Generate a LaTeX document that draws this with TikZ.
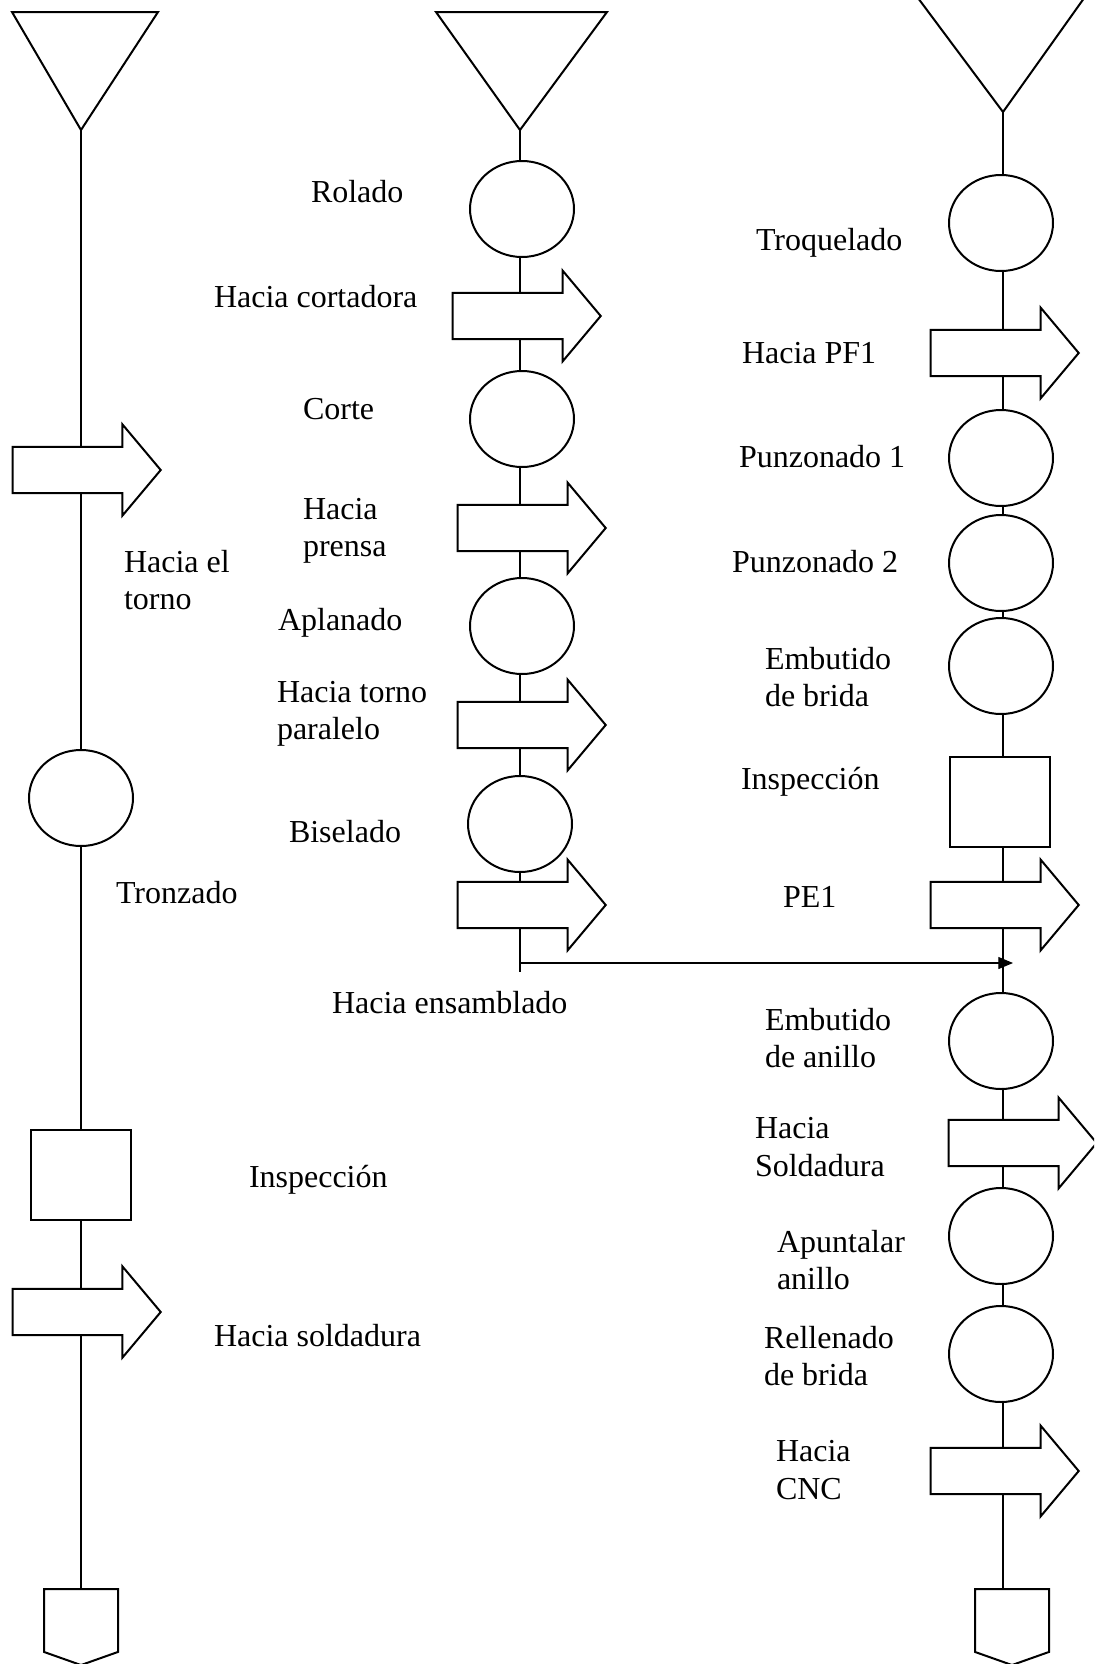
\documentclass[tikz,border=0pt]{standalone}
\usepackage{fontspec}
\setmainfont{Liberation Serif}
\usepackage{tikz}
\usetikzlibrary{shapes.geometric,shapes.arrows,shapes.symbols,arrows.meta,backgrounds}

\begin{document}
\begin{tikzpicture}[x=0.375pt, y=-0.375pt, line width=0.75pt,
  op/.style={ellipse, draw, fill=white, minimum width=39pt, minimum height=36pt, inner sep=0pt},
  insp/.style={rectangle, draw, fill=white, minimum width=37.5pt, minimum height=33.5pt, inner sep=0pt},
  move/.style={single arrow, draw, fill=white, minimum height=55.5pt, minimum width=33.4pt,
    single arrow head extend=8.4pt, single arrow tip angle=100, inner sep=8.3pt},
  store/.style={signal, signal to=south, draw, fill=white, minimum width=27.75pt,
    minimum height=23.6pt, signal pointer angle=141, inner sep=0pt, anchor=north},
  lbl/.style={anchor=west, align=left, inner sep=0pt, font=\fontsize{12}{14}\selectfont}]

\clip (0,0) rectangle (1094,1664);

% Left column
\coordinate (topL) at (81,130);
\draw (12,12) -- (158,12) -- (topL) -- cycle;
\node[move] (movL1) at (77,470) {};
\node[op] (opL1) at (81,798) {};
\node[insp] (inspL1) at (81,1175) {};
\node[move] (movL2) at (77,1312) {};
\node[store] (endL) at (81,1588) {};

\node[lbl] (txtL1) at (123,580) {Hacia el\\torno};
\node[lbl] (txtL2) at (115,893) {Tronzado};
\node[lbl] (txtL3) at (248,1180) {Inspección};
\node[lbl] (txtL4) at (213,1336) {Hacia soldadura};

% Middle column
\coordinate (topM) at (520,130);
\draw (436,12) -- (607,12) -- (topM) -- cycle;
\node[op] (opM1) at (522,209) {};
\node[move] (movM1) at (517,316) {};
\node[op] (opM2) at (522,419) {};
\node[move] (movM2) at (522,528) {};
\node[op] (opM3) at (522,626) {};
\node[move] (movM3) at (522,725) {};
\node[op] (opM4) at (520,824) {};
\node[move] (movM4) at (522,905) {};
\coordinate (endM) at (520,972);
\coordinate (joinM) at (520,963);

\node[lbl] (txtM1) at (310,192) {Rolado};
\node[lbl] (txtM2) at (213,297) {Hacia cortadora};
\node[lbl] (txtM3) at (302,409) {Corte};
\node[lbl] (txtM4) at (302,531) {Hacia\\prensa};
\node[lbl] (txtM5) at (277,623) {Aplanado};
\node[lbl] (txtM6) at (276,714) {Hacia torno\\paralelo};
\node[lbl] (txtM7) at (288,832) {Biselado};
\node[lbl] (txtM8) at (331,1003) {Hacia ensamblado};

% Right column
\coordinate (topR) at (1003,112);
\draw (915,-6) -- (1087,-6) -- (topR) -- cycle;
\node[op] (opR1) at (1001,223) {};
\node[move] (movR1) at (995,353) {};
\node[op] (opR2) at (1001,458) {};
\node[op] (opR3) at (1001,563) {};
\node[op] (opR4) at (1001,666) {};
\node[insp] (inspR1) at (1000,802) {};
\node[move] (movR2) at (995,905) {};
\coordinate (joinR) at (1013,963);
\node[op] (opR5) at (1001,1041) {};
\node[move] (movR3) at (1013,1143) {};
\node[op] (opR6) at (1001,1236) {};
\node[op] (opR7) at (1001,1354) {};
\node[move] (movR4) at (995,1471) {};
\node[store] (endR) at (1012,1588) {};

\node[lbl] (txtR1) at (755,243) {Troquelado};
\node[lbl] (txtR2) at (741,353) {Hacia PF1};
\node[lbl] (txtR3) at (738,457) {Punzonado 1};
\node[lbl] (txtR4) at (731,562) {Punzonado 2};
\node[lbl] (txtR5) at (764,677) {Embutido\\de brida};
\node[lbl] (txtR6) at (740,782) {Inspección};
\node[lbl] (txtR7) at (782,897) {PE1};
\node[lbl] (txtR8) at (764,1038) {Embutido\\de anillo};
\node[lbl] (txtR9) at (754,1147) {Hacia\\Soldadura};
\node[lbl] (txtR10) at (776,1260) {Apuntalar\\anillo};
\node[lbl] (txtR11) at (763,1356) {Rellenado\\de brida};
\node[lbl] (txtR12) at (775,1470) {Hacia\\CNC};

% flow lines behind the symbols
\begin{pgfonlayer}{background}
\draw (topL) -- (endL);
\draw (topM) -- (endM);
\draw (topR) -- (topR |- endR.north);
\end{pgfonlayer}

% to assembly
\draw[-{Triangle[length=5.5pt,width=4.5pt]}] (joinM) -- (joinR);

\end{tikzpicture}
\end{document}
